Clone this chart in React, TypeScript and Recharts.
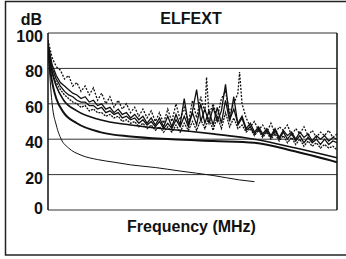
import React from 'react';
import { LineChart, Line, XAxis, YAxis, CartesianGrid, ReferenceLine } from 'recharts';

const yTicks = [0, 20, 40, 60, 80, 100];
const xTicks = [0, 350];

// Noisy curve 1 (dashed, highest peaks)
const n1Freq = [0,5,10,15,20,25,30,35,40,45,50,55,60,65,70,75,80,85,90,95,100,105,110,115,120,125,130,135,140,145,150,155,160,165,170,175,180,185,190,192,195,200,205,210,215,220,225,230,232,235,240,245,250,255,260,265,270,275,280,285,290,295,300,305,310,315,320,325,330,335,340,345,350];
const n1Val = [96,86,81,79,74,76,70,72,67,70,65,69,62,66,60,64,58,62,57,60,55,58,53,57,52,56,50,55,49,57,50,60,51,58,49,62,52,64,55,75,54,60,52,63,67,55,60,66,78,60,52,47,50,45,48,44,49,43,47,45,48,42,46,43,47,42,45,41,44,42,45,41,43];

// Noisy curves 2, 3 and 4 (5 MHz steps)
const stepFreq = [0,5,10,15,20,25,30,35,40,45,50,55,60,65,70,75,80,85,90,95,100,105,110,115,120,125,130,135,140,145,150,155,160,165,170,175,180,185,190,195,200,205,210,215,220,225,230,235,240,245,250,255,260,265,270,275,280,285,290,295,300,305,310,315,320,325,330,335,340,345,350];
const n2Val = [94,82,76,72,70,68,66,65,63,64,61,62,59,60,57,58,55,57,54,55,52,54,51,53,49,52,48,52,47,53,47,54,48,63,48,56,68,50,57,49,58,50,56,71,51,57,49,53,46,49,44,47,43,46,42,46,41,45,42,44,40,44,41,43,39,42,40,42,39,41,40];
const n3Val = [93,78,72,68,65,63,61,60,58,59,56,57,55,55,53,54,52,53,50,51,49,50,47,49,46,48,45,47,44,47,44,48,44,49,45,50,45,51,46,52,45,53,46,55,47,52,46,48,44,46,42,45,41,44,40,43,39,42,38,41,37,40,36,39,36,38,35,37,35,36,34];
const n4Val = [94,80,74,70,67,65,64,62,61,61,59,59,57,58,55,56,54,55,52,53,51,52,49,51,48,50,47,50,46,49,46,51,47,53,47,55,48,60,49,56,48,58,49,62,50,64,48,52,45,47,43,46,42,45,41,45,40,44,40,43,39,42,38,41,38,40,37,40,37,39,38];

// Smooth curves
const s1Freq = [0,2,5,10,16,25,40,60,80,100,130,160,200,232,250];
const s1Val = [96,78,60,48,40,35,31,28.5,27,25.5,24,22,19.5,17,16];
const s2Freq = [0,3,6,10,19,35,63,100,150,200,250,300,350];
const s2Val = [92,78,70,63,55,49,44,41.5,40,39,38,33,27];
const s3Freq = [0,3,6,10,19,35,63,100,160,200,250,300,350];
const s3Val = [93,82,76,70,62,56,51,48,45,43,40,35,29.5];

const pts = (f: number[], v: number[]) => f.map((x, i) => ({ f: x, v: v[i] }));

const font = '"Liberation Sans", Arial, Helvetica, sans-serif';
const txt = { fontFamily: font, fontSize: 16, fontWeight: 700, fill: '#111' } as const;

const XTick = (p: any) => {
  const val = p.payload.value;
  return (
    <text x={p.x + (val === 0 ? 4 : 1)} y={p.y + 22} textAnchor="middle" style={txt}>
      {val}
    </text>
  );
};

const YTick = (p: any) => {
  const val = p.payload.value;
  return (
    <text x={p.x} y={p.y + (val === 0 ? 4 : 9)} textAnchor="end" style={txt}>
      {val}
    </text>
  );
};

export default function App() {
  const ink = '#111';
  return (
    <div style={{ position: 'absolute', left: 0, top: 0, width: 346, height: 259, background: '#fff', overflow: 'hidden' }}>
      <LineChart width={346} height={259} margin={{ top: 33, right: 9, bottom: 49, left: 0 }}>
        <CartesianGrid horizontal vertical={false} stroke="#333" strokeWidth={1} />
        <XAxis type="number" dataKey="f" domain={[0, 350]} ticks={xTicks} interval={0} height={0}
          tickSize={0} tickMargin={0} tick={XTick} tickLine={false}
          axisLine={{ stroke: ink, strokeWidth: 1.5 }} allowDataOverflow />
        <YAxis type="number" domain={[0, 100]} ticks={yTicks} interval={0} width={48}
          tickSize={0} tickMargin={5} tick={YTick} tickLine={false}
          axisLine={{ stroke: ink, strokeWidth: 1.5 }} allowDataOverflow />
        <ReferenceLine x={350} stroke={ink} strokeWidth={1.5} />
        <Line data={pts(s1Freq, s1Val)} dataKey="v" type="monotone" stroke={ink} strokeWidth={1} dot={false} isAnimationActive={false} />
        <Line data={pts(s2Freq, s2Val)} dataKey="v" type="monotone" stroke={ink} strokeWidth={2} dot={false} isAnimationActive={false} />
        <Line data={pts(s3Freq, s3Val)} dataKey="v" type="monotone" stroke={ink} strokeWidth={1.6} dot={false} isAnimationActive={false} />
        <Line data={pts(stepFreq, n3Val)} dataKey="v" type="linear" stroke={ink} strokeWidth={1.3} strokeDasharray="2 1" dot={false} isAnimationActive={false} />
        <Line data={pts(stepFreq, n4Val)} dataKey="v" type="linear" stroke={ink} strokeWidth={1.3} dot={false} isAnimationActive={false} />
        <Line data={pts(stepFreq, n2Val)} dataKey="v" type="linear" stroke={ink} strokeWidth={1.3} dot={false} isAnimationActive={false} />
        <Line data={pts(n1Freq, n1Val)} dataKey="v" type="linear" stroke={ink} strokeWidth={1.3} strokeDasharray="2 1.5" dot={false} isAnimationActive={false} />
      </LineChart>
      <svg width={346} height={259} style={{ position: 'absolute', left: 0, top: 0, pointerEvents: 'none' }}>
        <rect x={5.5} y={1.5} width={345} height={253.5} fill="none" stroke="#222" strokeWidth={1.5} />
        <text x={42} y={25} textAnchor="end" style={txt}>dB</text>
        <text x={191} y={24} textAnchor="middle" style={txt}>ELFEXT</text>
        <text x={191.5} y={232} textAnchor="middle" style={txt}>Frequency (MHz)</text>
      </svg>
    </div>
  );
}
